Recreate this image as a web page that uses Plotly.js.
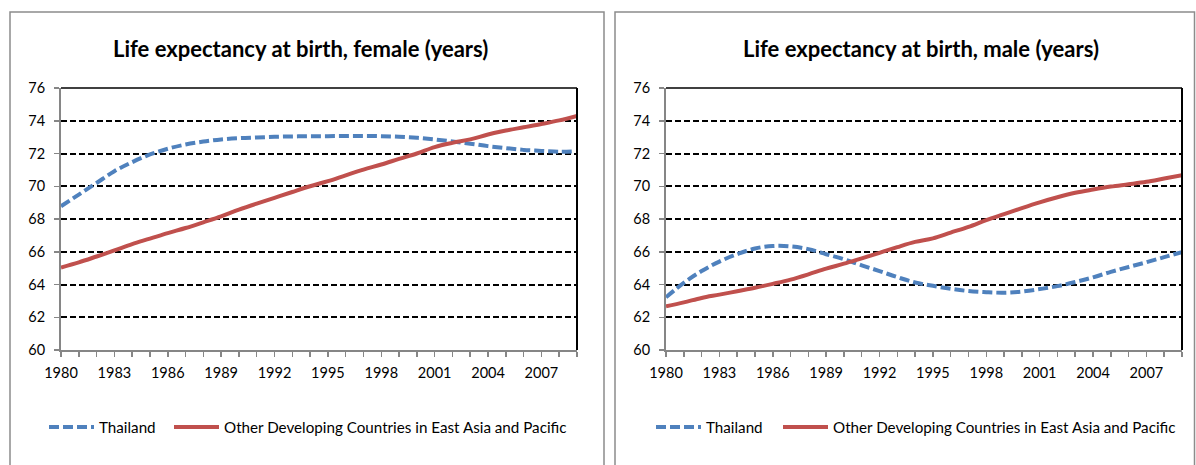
<!DOCTYPE html>
<html>
<head>
<meta charset="utf-8">
<script src="https://cdn.plot.ly/plotly-3.0.1.min.js"></script>
<style>html,body{margin:0;padding:0;background:#fff;}#chart{width:1196px;height:465px;}</style>
</head>
<body>
<div id="chart"></div>
<script>
const years = [1980,1981,1982,1983,1984,1985,1986,1987,1988,1989,1990,1991,1992,1993,1994,1995,1996,1997,1998,1999,2000,2001,2002,2003,2004,2005,2006,2007,2008,2009];
const seriesNames = ["Thailand", "Other Developing Countries in East Asia and Pacific"];
const chartTitles = ["Life expectancy at birth, female (years)", "Life expectancy at birth, male (years)"];
const femaleThailand = [68.78,69.49,70.2,70.92,71.47,71.94,72.29,72.55,72.73,72.86,72.94,72.98,73.02,73.04,73.06,73.06,73.07,73.07,73.06,73.02,72.96,72.86,72.73,72.6,72.45,72.33,72.22,72.16,72.1,72.13];
const femaleOther = [65.04,65.35,65.71,66.08,66.47,66.8,67.14,67.45,67.8,68.16,68.57,68.94,69.29,69.65,70.0,70.31,70.67,71.02,71.33,71.67,72.0,72.39,72.65,72.86,73.16,73.4,73.6,73.8,74.02,74.3];
const maleThailand = [63.22,64.1,64.82,65.4,65.85,66.2,66.35,66.33,66.16,65.85,65.54,65.17,64.82,64.45,64.12,63.92,63.74,63.6,63.53,63.5,63.57,63.72,63.9,64.15,64.44,64.77,65.07,65.36,65.67,65.98];
const maleOther = [62.67,62.91,63.18,63.38,63.59,63.8,64.04,64.3,64.62,64.97,65.27,65.6,65.93,66.28,66.6,66.82,67.17,67.52,67.93,68.3,68.67,69.02,69.33,69.6,69.8,69.98,70.12,70.27,70.47,70.67];

const W = 1196, H = 465;
const px = v => v / W;
const py = v => 1 - v / H;
const BLUE = '#4F81BD', RED = '#C0504D', AXIS = '#868686';
const FONT = 'Lato, "Open Sans", sans-serif';

function mkTrace(y, name, isThai, xa, ya, lg) {
  return {
    x: years, y: y, name: name, type: 'scatter', mode: 'lines',
    xaxis: xa, yaxis: ya, legend: lg,
    line: {color: isThai ? BLUE : RED, width: 4, shape: 'spline', smoothing: 1, dash: isThai ? '10px,4px' : 'solid'},
    hoverinfo: 'skip'
  };
}

const traces = [
  mkTrace(femaleThailand, seriesNames[0], true, 'x', 'y', 'legend'),
  mkTrace(femaleOther, seriesNames[1], false, 'x', 'y', 'legend2'),
  mkTrace(maleThailand, seriesNames[0], true, 'x2', 'y2', 'legend3'),
  mkTrace(maleOther, seriesNames[1], false, 'x2', 'y2', 'legend4')
];

function xAxis(domain, anchor) {
  return {
    domain: domain, anchor: anchor, range: [1980, 2009], tickmode: 'linear', tick0: 1980, dtick: 3,
    ticks: 'outside', ticklen: 5, tickwidth: 1.5, tickcolor: AXIS,
    showline: true, linecolor: AXIS, linewidth: 2, showgrid: false, zeroline: false,
    minor: {tick0: 1980, dtick: 1, ticks: 'outside', ticklen: 5, tickwidth: 1.5, tickcolor: AXIS, showgrid: false},
    tickfont: {family: FONT, size: 14.5, color: '#000'}, ticklabelstandoff: 4, fixedrange: true
  };
}
function yAxis(anchor) {
  return {
    domain: [py(350), py(88)], anchor: anchor, range: [60, 76], tick0: 60, dtick: 2,
    ticks: 'outside', ticklen: 5, tickwidth: 1.5, tickcolor: AXIS,
    showline: true, linecolor: AXIS, linewidth: 2,
    showgrid: true, gridcolor: '#000', gridwidth: 2, griddash: '6px,3px', zeroline: false,
    tickfont: {family: FONT, size: 14.5, color: '#000'}, ticklabelstandoff: 6, fixedrange: true
  };
}
function legend(x) {
  return {
    orientation: 'h', x: px(x), y: py(427), xanchor: 'left', yanchor: 'middle',
    font: {family: FONT, size: 15.2, color: '#000'}, bgcolor: 'rgba(0,0,0,0)',
    itemwidth: 45, itemclick: false, itemdoubleclick: false
  };
}
function border(xr, yr) {
  return [
    {type: 'line', xref: xr + ' domain', yref: yr + ' domain', x0: 0, x1: 1, y0: 1, y1: 1, line: {color: '#000', width: 1.5}},
    {type: 'line', xref: xr + ' domain', yref: yr + ' domain', x0: 1, x1: 1, y0: 0, y1: 1, line: {color: '#000', width: 2}}
  ];
}

const layout = {
  width: W, height: H, margin: {l: 0, r: 0, t: 0, b: 0},
  paper_bgcolor: '#fff', plot_bgcolor: '#fff',
  font: {family: FONT, size: 14, color: '#000'},
  showlegend: true,
  xaxis: xAxis([px(61), px(577)], 'y'),
  yaxis: yAxis('x'),
  xaxis2: xAxis([px(666), px(1182)], 'y2'),
  yaxis2: yAxis('x2'),
  legend: legend(44),
  legend2: legend(169),
  legend3: legend(651),
  legend4: legend(778),
  annotations: [
    {text: '<b>' + chartTitles[0] + '</b>', xref: 'paper', yref: 'paper', x: px(300), y: py(49), xanchor: 'center', yanchor: 'middle', showarrow: false, font: {family: FONT, size: 22, color: '#000'}},
    {text: '<b>' + chartTitles[1] + '</b>', xref: 'paper', yref: 'paper', x: px(921), y: py(49), xanchor: 'center', yanchor: 'middle', showarrow: false, font: {family: FONT, size: 22, color: '#000'}}
  ],
  shapes: [
    {type: 'rect', xref: 'paper', yref: 'paper', x0: px(10), x1: px(604), y0: py(475), y1: py(12), line: {color: '#8c8c8c', width: 1.5}, layer: 'below'},
    {type: 'rect', xref: 'paper', yref: 'paper', x0: px(615), x1: px(1194.5), y0: py(475), y1: py(12), line: {color: '#8c8c8c', width: 1.5}, layer: 'below'}
  ].concat(border('x', 'y'), border('x2', 'y2'))
};

Plotly.newPlot('chart', traces, layout, {displayModeBar: false, staticPlot: true});
</script>
</body>
</html>
